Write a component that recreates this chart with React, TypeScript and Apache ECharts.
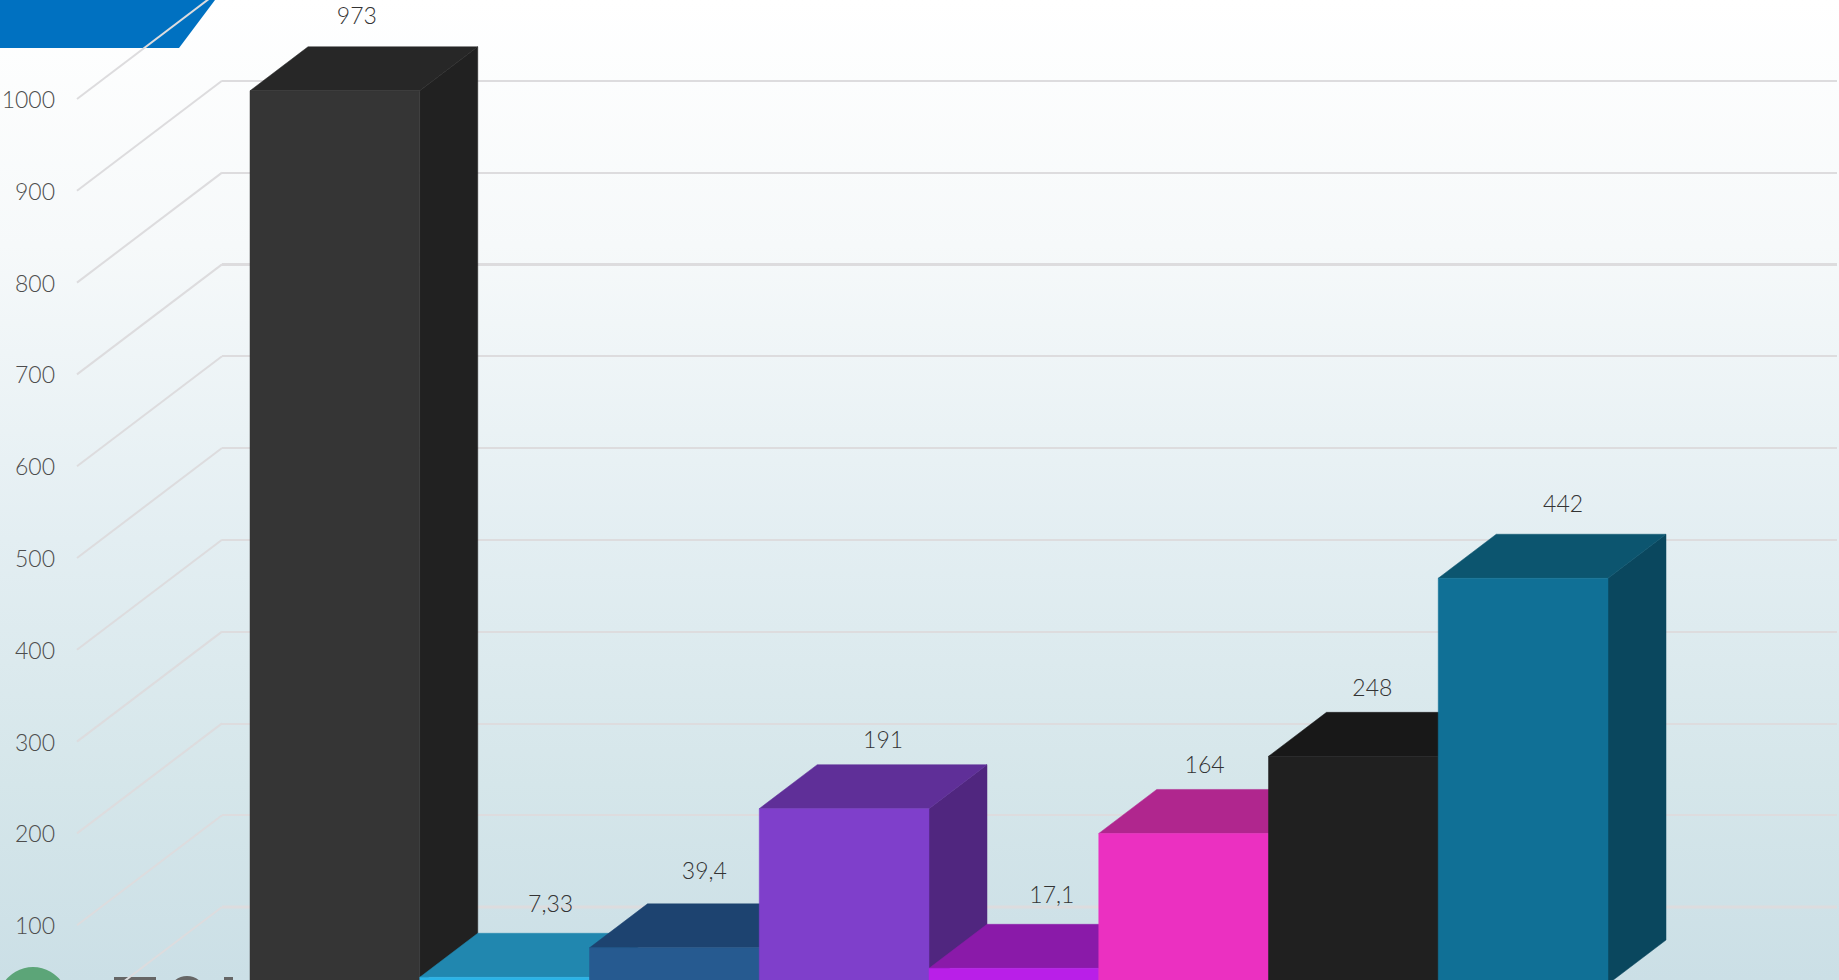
import React, { useEffect, useRef } from "react";
import * as echarts from "echarts";

const categories = ["1", "2", "3", "4", "5", "6", "7", "8"];
const values = [973, 7.33, 39.4, 191, 17.1, 164, 248, 442];
const valueLabels = ["973", "7,33", "39,4", "191", "17,1", "164", "248", "442"];
const yTicks = [0, 100, 200, 300, 400, 500, 600, 700, 800, 900, 1000];
const heavyWallTicks = [0, 700];

const frontColors = ["#353535", "#2BB3E6", "#265A90", "#7F3FCB", "#B91FE8", "#EB30C1", "#202020", "#107096"];
const topColors = ["#272727", "#2187AF", "#1D4370", "#5F2F98", "#8A1AA9", "#B0268E", "#181818", "#0C556F"];
const sideColors = ["#212121", "#1C7396", "#17365A", "#50267F", "#70158A", "#8F1F74", "#141414", "#0A475E"];
const labelNudgeX = [-7, 17, 1, 10, 9, -8, -10, 11];
const labelNudgeY = [-32, -30, -34, -26, -30, -25, -25, -31];

const BAR_DX = 58;
const BAR_DY = 44;
const WALL_DX = 145;
const WALL_DY = 110;
const GRID_COLOR = "#dddcde";
const FONT = "Lato, 'Open Sans', sans-serif";

function renderWallLink(_p: any, api: any) {
  const [x, y] = api.coord([0, api.value(0)]);
  return {
    type: "line",
    shape: { x1: x, y1: y, x2: x + WALL_DX, y2: y - WALL_DY },
    style: { stroke: GRID_COLOR, lineWidth: 2 },
  };
}

function renderHeavyWallLine(_p: any, api: any) {
  const v = api.value(0);
  const [x1, y] = api.coord([0, v]);
  const [x2] = api.coord([1, v]);
  return {
    type: "line",
    shape: { x1, y1: y, x2, y2: y },
    style: { stroke: GRID_COLOR, lineWidth: 3 },
  };
}

function renderBar(p: any, api: any) {
  const i = api.value(0);
  const [cx, yTop] = api.coord([i, api.value(1)]);
  const [, yBase] = api.coord([i, 0]);
  const w = api.size([1, 0])[0];
  const l = cx - w / 2;
  const r = cx + w / 2;
  const poly = (points: number[][], fill: string) => ({
    type: "polygon",
    shape: { points },
    style: { fill, stroke: fill, lineWidth: 0.5 },
  });
  return {
    type: "group",
    children: [
      poly([[r, yTop], [r + BAR_DX, yTop - BAR_DY], [r + BAR_DX, yBase - BAR_DY], [r, yBase]], sideColors[i]),
      poly([[l, yTop], [r, yTop], [r + BAR_DX, yTop - BAR_DY], [l + BAR_DX, yTop - BAR_DY]], topColors[i]),
      poly([[l, yTop], [r, yTop], [r, yBase], [l, yBase]], frontColors[i]),
      {
        type: "text",
        style: {
          x: cx + BAR_DX / 2 + labelNudgeX[i],
          y: yTop - BAR_DY + labelNudgeY[i],
          text: valueLabels[i],
          fill: "#333333",
          font: `300 23px ${FONT}`,
          align: "center",
          verticalAlign: "middle",
        },
      },
    ],
  };
}

export default function App() {
  const ref = useRef<HTMLDivElement>(null);
  useEffect(() => {
    const chart = echarts.init(ref.current!, undefined, { renderer: "svg" });
    chart.setOption({
      animation: false,
      backgroundColor: new echarts.graphic.LinearGradient(0, 0, 0, 1, [
        { offset: 0, color: "#ffffff" },
        { offset: 0.25, color: "#f6f9fa" },
        { offset: 0.55, color: "#e3eef2" },
        { offset: 0.8, color: "#d5e6ea" },
        { offset: 1, color: "#cbdfe6" },
      ]),
      grid: [
        { left: 77, top: 99, width: WALL_DX, height: 918, outerBoundsMode: "none" },
        { left: 222, top: -11, width: 1615, height: 918, outerBoundsMode: "none" },
        { left: 250, top: 66, width: 1358, height: 918, outerBoundsMode: "none" },
      ],
      xAxis: [
        { gridIndex: 0, type: "value", min: 0, max: 1, show: false },
        { gridIndex: 1, type: "value", min: 0, max: 1, show: false },
        { gridIndex: 2, type: "category", data: categories, show: false },
      ],
      yAxis: [
        {
          gridIndex: 0,
          type: "value",
          min: 0,
          max: 1000,
          interval: 100,
          axisLine: { show: false },
          axisTick: { show: false },
          splitLine: { show: false },
          axisLabel: {
            margin: 22,
            color: "#4d4d4d",
            fontSize: 23,
            fontWeight: 300,
            fontFamily: FONT,
            showMinLabel: false,
            formatter: (v: number) => String(v),
          },
        },
        {
          gridIndex: 1,
          type: "value",
          min: 0,
          max: 1000,
          interval: 100,
          axisLine: { show: false },
          axisTick: { show: false },
          axisLabel: { show: false },
          splitLine: { show: true, lineStyle: { color: GRID_COLOR, width: 2 } },
        },
        { gridIndex: 2, type: "value", min: 0, max: 1000, show: false },
      ],
      graphic: [
        {
          type: "polygon",
          z: -1,
          shape: { points: [[0, 0], [215, 0], [179, 48], [0, 48]] },
          style: { fill: "#0071C1" },
        },
        { type: "circle", z: -1, shape: { cx: 33, cy: 1002, r: 35 }, style: { fill: "#5CA578" } },
        { type: "rect", z: -1, shape: { x: 114, y: 977, width: 42, height: 8 }, style: { fill: "#666666" } },
        { type: "ellipse", z: -1, shape: { cx: 187, cy: 995, rx: 19, ry: 19 }, style: { fill: "#666666" } },
        { type: "rect", z: -1, shape: { x: 224, y: 977, width: 9, height: 8 }, style: { fill: "#666666" } },
      ],
      series: [
        {
          type: "custom",
          xAxisIndex: 0,
          yAxisIndex: 0,
          clip: false,
          silent: true,
          z: 1,
          data: yTicks.map((v) => [v]),
          encode: { y: 0 },
          renderItem: renderWallLink,
        },
        {
          type: "custom",
          xAxisIndex: 1,
          yAxisIndex: 1,
          clip: false,
          silent: true,
          z: 1,
          data: heavyWallTicks.map((v) => [v]),
          encode: { y: 0 },
          renderItem: renderHeavyWallLine,
        },
        {
          type: "custom",
          xAxisIndex: 2,
          yAxisIndex: 2,
          clip: false,
          z: 3,
          data: values.map((v, i) => [i, v]),
          encode: { x: 0, y: 1 },
          renderItem: renderBar,
        },
      ],
    });
    return () => chart.dispose();
  }, []);
  return <div ref={ref} style={{ position: "fixed", left: 0, top: 0, width: 1839, height: 980 }} />;
}
